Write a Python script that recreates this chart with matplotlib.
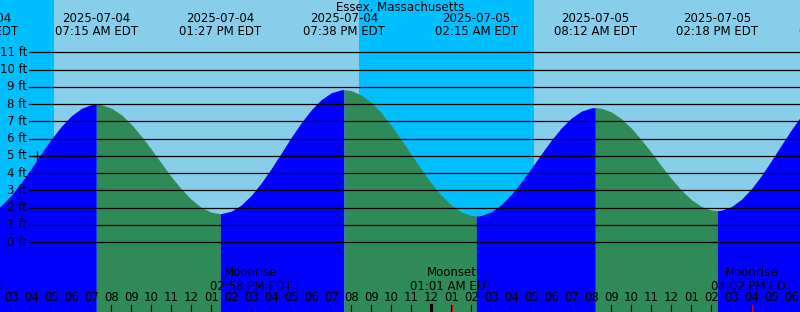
import numpy as np
import matplotlib
matplotlib.use("Agg")
import matplotlib.pyplot as plt

# hours since 2025-07-04 00:00 EDT
title = "Essex, Massachusetts"

# tide readings every half hour, 02:00 Jul 4 .. 19:00 Jul 5
tide_h0, tide_step = 2.0, 0.5
tide_ft = [1.71, 2.13, 2.72, 3.46, 4.28, 5.14, 5.97, 6.71, 7.32, 7.75, 7.97, 7.97, 7.77, 7.39,
           6.83, 6.15, 5.39, 4.59, 3.8, 3.09, 2.48, 2.02, 1.74, 1.66, 1.8, 2.16, 2.72, 3.44,
           4.27, 5.17, 6.08, 6.93, 7.67, 8.26, 8.66, 8.83, 8.78, 8.53, 8.1, 7.49, 6.76, 5.94,
           5.08, 4.22, 3.42, 2.71, 2.15, 1.75, 1.55, 1.55, 1.76, 2.18, 2.77, 3.49, 4.29, 5.11,
           5.91, 6.62, 7.19, 7.59, 7.78, 7.76, 7.55, 7.16, 6.61, 5.94, 5.2, 4.43, 3.69, 3.02,
           2.47, 2.08, 1.87, 1.85, 2.06, 2.48, 3.09, 3.85, 4.72, 5.62, 6.51, 7.32, 8.0]

# highs and lows
ext_h = [1.283, 7.25, 13.45, 19.633, 26.25, 32.2, 38.3, 44.42]
ext_ft = [1.48, 8.0, 1.66, 8.84, 1.52, 7.8, 1.83, 8.9]
ext_date = ["2025-07-04", "2025-07-04", "2025-07-04", "2025-07-04",
            "2025-07-05", "2025-07-05", "2025-07-05", "2025-07-05"]
ext_time = ["01:17 AM EDT", "07:15 AM EDT", "01:27 PM EDT", "07:38 PM EDT",
            "02:15 AM EDT", "08:12 AM EDT", "02:18 PM EDT", "08:25 PM EDT"]

# sun (night shading)
night = [(-1.0, 5.135), (20.385, 29.135)]

# moon
moon_h = [0.63, 14.967, 25.017, 40.033]
moon_name = ["Moonset", "Moonrise", "Moonset", "Moonrise"]
moon_time = ["12:38 AM EDT", "02:58 PM EDT", "01:01 AM EDT", "04:02 PM EDT"]

hours = list(range(3, 43))
ft_levels = list(range(0, 12))

W, H = 800, 312
x0, x1 = 2.435, 42.435
y0, y1 = -4.04, 14.03

fig = plt.figure(figsize=(8, 3.12), dpi=100)
ax = fig.add_axes([0, 0, 1, 1])
ax.set_xlim(x0, x1)
ax.set_ylim(y0, y1)
ax.axis("off")

ax.axvspan(x0 - 2, x1 + 2, color="#87CEEB", lw=0)
for a, b in night:
    ax.axvspan(a, b, color="#00BFFF", lw=0)

# merge half-hour readings with the extremes
th = list(tide_h0 + tide_step * np.arange(len(tide_ft)))
allh = np.array(th + ext_h)
allv = np.array(tide_ft + ext_ft)
o = np.argsort(allh)
allh, allv = allh[o], allv[o]

for i in range(len(ext_h) - 1):
    m = (allh >= ext_h[i]) & (allh <= ext_h[i + 1])
    if m.sum() < 2:
        continue
    col = "#0000FF" if ext_ft[i + 1] > ext_ft[i] else "#2E8B57"
    ax.fill_between(allh[m], allv[m], y0 - 1, color=col, lw=0)

yt = ax.get_yaxis_transform()
xt = ax.get_xaxis_transform()
fs = 8.5

for f in ft_levels:
    ax.plot([29 / W, 1], [f, f], color="black", lw=0.9, transform=yt)
    ax.text(27 / W, f, f"{f} ft", transform=yt, ha="right", va="center", fontsize=fs)

ax.plot([4.31], [5.0], marker="+", color="black", ms=7, mew=0.9)

def py(p):
    return 1 - p / H

ax.text(0.5, py(7), title, transform=ax.transAxes, ha="center", va="center", fontsize=fs)
for h, d, t in zip(ext_h, ext_date, ext_time):
    ax.text(h, py(19), d, transform=xt, ha="center", va="center", fontsize=fs)
    ax.text(h, py(31.5), t, transform=xt, ha="center", va="center", fontsize=fs)

for h, n, t in zip(moon_h, moon_name, moon_time):
    ax.text(h, py(273), n, transform=xt, ha="center", va="center", fontsize=fs)
    ax.text(h, py(286), t, transform=xt, ha="center", va="center", fontsize=fs)
    ax.plot([h, h], [py(305), py(312)], color="red", lw=0.8, transform=xt)

for h in hours:
    lab = "%02d" % ((h - 1) % 12 + 1)
    ax.text(h, py(297.5), lab, transform=xt, ha="center", va="center", fontsize=fs)
    lw = 2.2 if h % 24 == 0 else 0.8
    ax.plot([h, h], [py(305), py(312)], color="black", lw=lw, transform=xt)

fig.savefig("out.png", dpi=100)
